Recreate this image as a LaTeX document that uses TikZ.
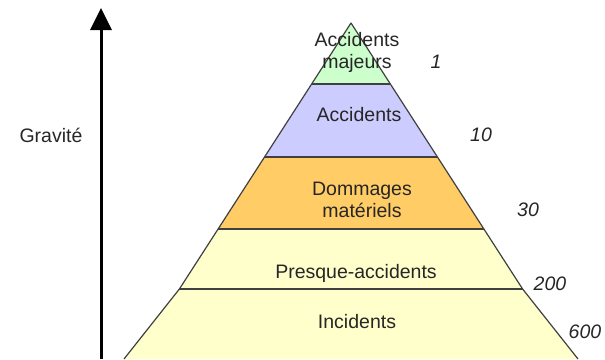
\documentclass[tikz,border=0pt]{standalone}
\usepackage{fontspec}
\setmainfont{Liberation Sans}
\usetikzlibrary{arrows.meta}
\definecolor{vert}{HTML}{CCFFCC}
\definecolor{bleu}{HTML}{CCCCFF}
\definecolor{orange}{HTML}{FFCC66}
\definecolor{jaune}{HTML}{FFFFCC}
\definecolor{trait}{HTML}{404040}
\tikzset{
 band/.style={draw=trait, line width=1.2pt},
 lbl/.style={align=center, inner sep=0, text=black!85},
 num/.style={inner sep=0, text=black!85, font=\fontsize{19.5}{22}\selectfont\itshape}
}

\begin{document}
\begin{tikzpicture}[x=1pt, y=-1pt, font=\fontsize{19.5}{22}\selectfont]
\useasboundingbox (0,0) rectangle (605,359);
% bands of the pyramid
\fill[jaune] (124,359) -- (179.4,289) -- (522.6,289) -- (578,359) -- cycle;
\fill[jaune] (179.4,289) -- (218.1,229) -- (483.9,229) -- (522.6,289) -- cycle;
\fill[orange] (218.1,229) -- (264.6,157) -- (437.4,157) -- (483.9,229) -- cycle;
\fill[bleu] (264.6,157) -- (311.7,84) -- (390.3,84) -- (437.4,157) -- cycle;
\fill[vert] (311.7,84) -- (351,23) -- (390.3,84) -- cycle;
\draw[band, line join=round] (124,359) -- (179.4,289) -- (351,23) -- (522.6,289) -- (578,359);
\draw[band] (311.7,84)--(390.3,84);
\draw[band] (264.6,157)--(437.4,157);
\draw[band] (218.1,229)--(483.9,229);
\draw[band] (179.4,289)--(522.6,289);
% labels
\node[lbl] (majeurs) at (357,52) {Accidents\\majeurs};
\node[lbl] (accidents) at (359,115) {Accidents};
\node[lbl] (dommages) at (362,200) {Dommages\\matériels};
\node[lbl] (presque) at (356,273) {Presque-accidents};
\node[lbl] (incidents) at (357,322) {Incidents};
\foreach \n/\x/\y in {1/436/62, 10/481/135, 30/528/210, 200/550/284, 600/585/332} {
 \node[num] (n\n) at (\x,\y) {\n};
}
% axis
\coordinate (bas) at (101,359);
\coordinate (haut) at (101,8);
\draw[line width=3pt, -{Triangle[width=21pt,length=22pt]}] (bas) -- (haut);
\node[lbl] (gravite) at (51,135) {Gravité};
\end{tikzpicture}
\end{document}
